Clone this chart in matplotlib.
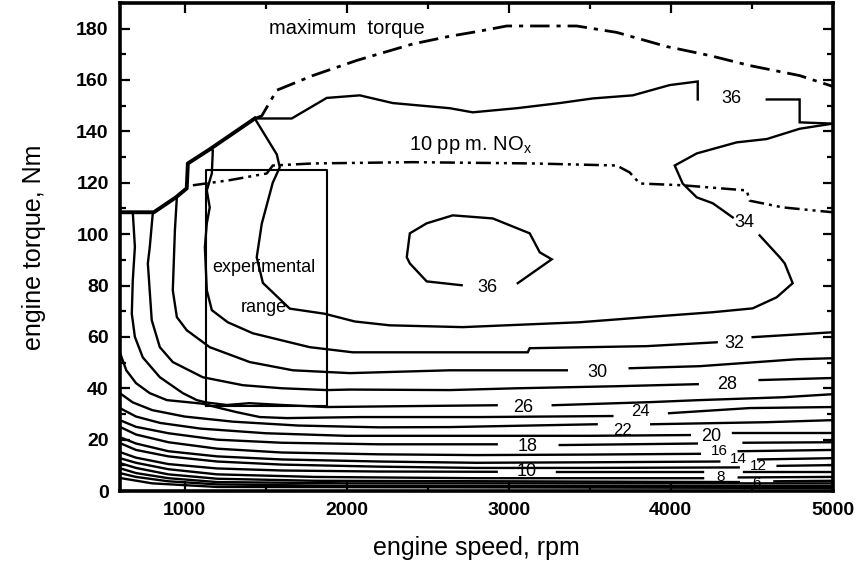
import matplotlib
matplotlib.use("Agg")
import matplotlib.pyplot as plt
from matplotlib.ticker import MultipleLocator

plt.rcParams['font.family'] = ['Liberation Sans', 'DejaVu Sans']

# contour lines of efficiency: (rpm, Nm), split where a label sits
eff_36_top = [[(1433, 145), (1661, 145), (1877, 153), (2081, 154), (2285, 151), (2636, 149), (2778, 147.4),
               (3050, 149), (3315, 151), (3519, 152.8), (3766, 154), (3994, 158), (4167, 159.4), (4167, 152.4)],
              [(4593, 152.4), (4796, 152.4), (4796, 143.5), (5000, 143)]]
eff_36_island = [[(2710, 80.1), (2494, 81.6), (2390, 88.6), (2371, 91), (2390, 100.3), (2494, 104.2), (2655, 107.3),
                  (2902, 106.1), (3130, 100.3), (3192, 92.9), (3266, 90.2), (3056, 80.9)]]
eff_34 = [[(1433, 145), (1569, 131), (1587, 126), (1544, 120), (1476, 104), (1445, 91), (1483, 81), (1649, 71),
           (1865, 69), (2050, 66), (2266, 64.5), (2717, 63.8), (3439, 65.7), (3852, 67.7), (4260, 69.6),
           (4506, 71.1), (4654, 75.4), (4753, 80.9), (4704, 88.6), (4673, 91), (4549, 99.5)],
          [(4383, 106.5), (4260, 112), (4161, 114.3), (4074, 119.7), (4025, 126.7), (4161, 131.4), (4407, 135.7),
           (4593, 137), (4796, 141), (5000, 143)]]
eff_32 = [[(1155, 133), (1174, 132.6), (1168, 123.6), (1137, 117), (1155, 110.4), (1137, 104.2), (1125, 94.9),
           (1137, 78.1), (1168, 70.4), (1266, 65.7), (1421, 61.4), (1772, 56), (2038, 54), (3118, 54),
           (3130, 55.6), (3852, 56.4), (4284, 57.9)],
          [(4506, 59.9), (5000, 61.8)]]
eff_30 = [[(952, 114.3), (940, 101.5), (927, 78.1), (952, 67.7), (1013, 62.6), (1155, 56), (1402, 50.2),
           (1668, 47), (2019, 45.9), (2636, 47), (3359, 47)],
          [(3747, 47.8), (4179, 48.6), (4778, 51.3), (5000, 51.7)]]
eff_28 = [[(804, 108.5), (785, 95), (773, 88.6), (797, 66.5), (847, 56), (927, 50.2), (1112, 44.3), (1359, 41.2),
           (1600, 40), (1877, 39.3), (2019, 39.5), (2636, 39.3), (3050, 40), (3667, 40.8), (4167, 41.6)],
          [(4549, 43.2), (5000, 44)]]
eff_26 = [[(680, 108.5), (693, 95), (680, 82), (674, 69), (693, 60), (742, 52), (847, 44.3), (989, 38.1),
           (1075, 35.4), (1131, 34.5), (1260, 33.5), (1400, 34.2), (1600, 33.5), (1877, 32.7), (2300, 33),
           (2926, 33.4)],
          [(3272, 33.4), (3870, 34.6), (4179, 35.4), (4691, 36.5), (5000, 37.7)]]
eff_24 = [[(600, 54), (640, 47), (700, 42), (785, 38.1), (890, 35.4), (1112, 34), (1217, 32.3), (1322, 30.7),
           (1464, 28.8), (1630, 28.4), (2081, 28.8), (2822, 28.8), (3640, 29.2)],
          [(3990, 30.3), (4488, 32.3), (5000, 32.7)]]
eff_22 = [[(600, 38.1), (680, 34.5), (800, 31.5), (1000, 29), (1300, 27), (1700, 25.5), (2200, 24.8),
           (2636, 24.9), (3543, 26)],
          [(3880, 26), (4593, 26.8), (5000, 27.6)]]
eff_20 = [[(600, 32.3), (700, 29), (850, 26.5), (1100, 24.3), (1500, 22.5), (2000, 21.5), (2636, 21.5),
           (3500, 21.5), (4118, 21.8)],
          [(4383, 22.5), (5000, 22.5)]]
eff_18 = [[(600, 27.6), (700, 25), (900, 22.5), (1200, 20), (1600, 18.8), (2200, 18.2), (2926, 18.2)],
          [(3315, 17.9), (4161, 18.5)],
          [(4450, 18.8), (5000, 19)]]
eff_16 = [[(600, 25), (700, 22), (900, 19), (1200, 16.5), (1600, 15), (2200, 14.3), (2800, 14), (3500, 14.2),
           (4180, 14.5)],
          [(4420, 15.5), (5000, 16)]]
eff_14 = [[(600, 21), (700, 18.5), (900, 15.5), (1200, 13.5), (1600, 12.3), (2200, 11.5), (2800, 11),
           (3500, 11.2), (4300, 11.5)],
          [(4540, 12.3), (5000, 12.8)]]
eff_12 = [[(600, 18.7), (700, 16), (900, 13.5), (1200, 11.5), (1600, 10.3), (2200, 9.5), (2800, 9), (3500, 9),
           (4420, 9.2)],
          [(4660, 9.8), (5000, 10.1)]]
eff_10 = [[(600, 15.2), (700, 13), (900, 10.5), (1200, 8.8), (1600, 8), (2200, 7.6), (2926, 7.5)],
          [(3300, 7.5), (4200, 7.5)],
          [(4450, 7.4), (5000, 7.4)]]
eff_8 = [[(600, 12.8), (700, 11), (900, 8.5), (1200, 6.5), (1800, 5.5), (2800, 5), (4200, 5)],
         [(4420, 5.3), (5000, 5.5)]]
eff_6 = [[(600, 10.9), (700, 9), (900, 6.5), (1200, 4.8), (1800, 4), (3000, 3.8), (4420, 3.5)],
         [(4640, 3.8), (5000, 4)]]
eff_4 = [[(600, 8.9), (700, 7), (900, 5), (1200, 3.5), (2000, 3), (5000, 3)]]
eff_2 = [[(600, 7), (700, 5.5), (900, 3.8), (1200, 2.6), (2000, 2), (5000, 2)]]
eff_0 = [[(600, 5.1), (800, 3), (1200, 1.6), (5000, 1.2)]]

contours = [eff_36_top, eff_36_island, eff_34, eff_32, eff_30, eff_28, eff_26, eff_24, eff_22, eff_20,
            eff_18, eff_16, eff_14, eff_12, eff_10, eff_8, eff_6, eff_4, eff_2, eff_0]

contour_labels = ["36", "36", "34", "32", "30", "28", "26", "24", "22", "20", "18", "16", "14", "12", "10", "8", "6"]
label_x = [4377, 2871, 4457, 4395, 3550, 4346, 3087, 3815, 3705, 4250, 3118, 4300, 4420, 4540, 3112, 4310, 4530]
label_y = [152.8, 79.3, 104.6, 57.5, 46.3, 41.6, 32.7, 31.0, 23.6, 21.4, 17.5, 15.5, 12.6, 9.8, 7.8, 5.3, 3.2]
label_size = [13, 13, 13, 13, 13, 13, 13, 12, 12, 13, 13, 11, 11, 11, 13, 11, 11]

# full load boundary
boundary_rpm = [600, 810, 946, 1013, 1020, 1155, 1433]
boundary_nm = [108.5, 108.5, 114.3, 117.8, 127.5, 133, 145]
max_torque_rpm = [1433, 1476, 1569, 1791, 2063, 2408, 2636, 2821, 2988, 3420, 3667, 3975, 4241, 4488, 4796, 5000]
max_torque_nm = [145, 146, 156, 161.7, 167.6, 174, 177, 179, 181, 181, 178.5, 173, 169.5, 165.6, 161.7, 157.5]

# 10 ppm NOx line
nox_rpm = [1051, 1279, 1507, 1544, 1791, 2408, 3149, 3667, 3747, 3809, 4074, 4469, 4488, 4691, 5000]
nox_nm = [119, 121, 123.6, 126.7, 127.5, 128, 127.5, 126.7, 124, 119.7, 119, 117, 113, 110.4, 108.5]

# experimental range box
exp_rpm = [1130, 1880]
exp_nm = [33, 125]


fig = plt.figure(figsize=(8.62, 5.71), dpi=100)
ax = fig.add_axes([0.139, 0.140, 0.827, 0.855])

for level in contours:
    for seg in level:
        xs = [p[0] for p in seg]
        ys = [p[1] for p in seg]
        ax.plot(xs, ys, color='black', lw=1.7, solid_joinstyle='miter')

for t, x, y, s in zip(contour_labels, label_x, label_y, label_size):
    ax.text(x, y, t, fontsize=s, ha='center', va='center')

ax.plot(boundary_rpm, boundary_nm, color='black', lw=2.8)
ax.plot(max_torque_rpm, max_torque_nm, color='black', lw=2.0, linestyle=(0, (7, 2.5, 1.5, 2.5)))
ax.plot(nox_rpm, nox_nm, color='black', lw=1.8, linestyle=(0, (6, 2, 1.2, 2, 1.2, 2)))

ax.plot([exp_rpm[0], exp_rpm[1], exp_rpm[1], exp_rpm[0], exp_rpm[0]],
        [exp_nm[0], exp_nm[0], exp_nm[1], exp_nm[1], exp_nm[0]], color='black', lw=1.5)

ax.text(2000, 180, "maximum  torque", fontsize=14.5, ha='center', va='center')
ax.text(2766, 134.5, "10 pp m. NO$_\\mathregular{x}$", fontsize=14.5, ha='center', va='center')
ax.text(1489, 87, "experimental", fontsize=13, ha='center', va='center')
ax.text(1491, 71.5, "range", fontsize=13, ha='center', va='center')

ax.set_xlim(600, 5000)
ax.set_ylim(0, 190)
ax.xaxis.set_major_locator(MultipleLocator(1000))
ax.xaxis.set_minor_locator(MultipleLocator(500))
ax.yaxis.set_major_locator(MultipleLocator(20))
ax.yaxis.set_minor_locator(MultipleLocator(10))
ax.tick_params(which='both', direction='in', top=True, right=True, width=1.6)
ax.tick_params(which='major', length=7, labelsize=14, pad=8)
ax.tick_params(which='minor', length=4)
for lab in ax.get_xticklabels() + ax.get_yticklabels():
    lab.set_fontweight('bold')
for sp in ax.spines.values():
    sp.set_linewidth(2.6)

ax.set_xlabel("engine speed, rpm", fontsize=18, labelpad=12)
ax.set_ylabel("engine torque, Nm", fontsize=18, labelpad=22)

fig.savefig("out.png", dpi=100)
